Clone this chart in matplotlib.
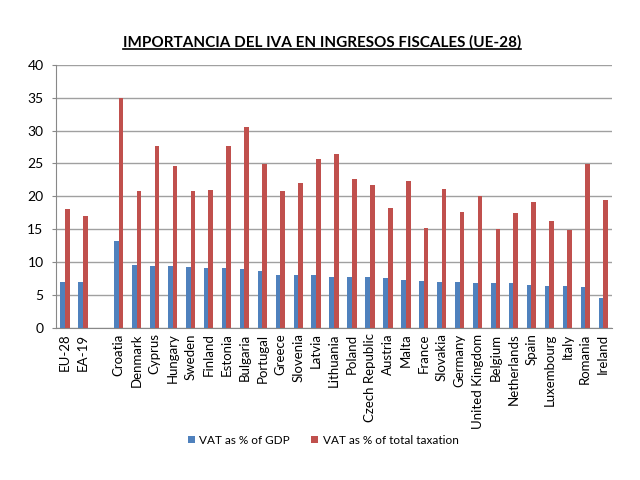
import matplotlib
matplotlib.use("Agg")
import matplotlib.pyplot as plt
import numpy as np
from matplotlib.lines import Line2D

countries = ["EU-28", "EA-19", "Croatia", "Denmark", "Cyprus", "Hungary", "Sweden",
             "Finland", "Estonia", "Bulgaria", "Portugal", "Greece", "Slovenia", "Latvia",
             "Lithuania", "Poland", "Czech Republic", "Austria", "Malta", "France",
             "Slovakia", "Germany", "United Kingdom", "Belgium", "Netherlands", "Spain",
             "Luxembourg", "Italy", "Romania", "Ireland"]
vat_gdp = [7.0, 6.9, 13.2, 9.5, 9.4, 9.4, 9.2, 9.1, 9.1, 9.0, 8.6, 8.1, 8.1, 8.0,
           7.8, 7.8, 7.7, 7.6, 7.2, 7.1, 7.0, 6.9, 6.8, 6.8, 6.8, 6.5, 6.3, 6.3, 6.2, 4.5]
vat_tax = [18.0, 17.0, 34.9, 20.8, 27.7, 24.6, 20.8, 21.0, 27.6, 30.5, 24.9, 20.8, 22.1, 25.7,
           26.5, 22.7, 21.7, 18.2, 22.4, 15.2, 21.1, 17.6, 20.1, 15.1, 17.4, 19.1, 16.2, 14.9, 24.9, 19.5]
yticks = [0, 5, 10, 15, 20, 25, 30, 35, 40]
title = "IMPORTANCIA DEL IVA EN INGRESOS FISCALES (UE-28)"
labels = ["VAT as % of GDP", "VAT as % of total taxation"]

plt.rcParams['font.family'] = ['Lato', 'DejaVu Sans']

fig = plt.figure(figsize=(6.4, 4.8), dpi=100)
ax = fig.add_axes([0.0875, 0.317, 0.869, 0.548])

n = len(countries)
x = np.array([i if i < 2 else i + 1 for i in range(n)], dtype=float)
w = 0.26
ax.bar(x - w / 2, vat_gdp, width=w, color="#4F81BD", label=labels[0], zorder=3)
ax.bar(x + w / 2, vat_tax, width=w, color="#C0504D", label=labels[1], zorder=3)

ax.set_xlim(-0.5, n + 0.5)
ax.set_ylim(0, 40)
ax.set_yticks(yticks)
ax.set_yticklabels([str(t) for t in yticks], fontsize=10)
ax.set_xticks(x)
ax.set_xticklabels(countries, rotation=90, fontsize=9.5)
ax.tick_params(axis='x', length=0, pad=4)
ax.tick_params(axis='y', length=3, color="#888888", pad=6)
ax.yaxis.grid(True, color="#A0A0A0", linewidth=1, zorder=0)
for s in ["top", "right"]:
    ax.spines[s].set_visible(False)
ax.spines["left"].set_color("#888888")
ax.spines["bottom"].set_color("#888888")

leg = fig.legend(loc="center", bbox_to_anchor=(0.505, 0.083), ncol=2, frameon=False,
                 fontsize=8.5, handlelength=0.6, handleheight=0.6, columnspacing=1.8,
                 handletextpad=0.4)

t = fig.text(0.503, 0.912, title, ha="center", va="center", fontsize=11, fontweight="bold")
fig.canvas.draw()
bb = t.get_window_extent(fig.canvas.get_renderer()).transformed(fig.transFigure.inverted())
y_line = bb.y0 + 0.002
fig.add_artist(Line2D([bb.x0, bb.x1], [y_line, y_line], color="black", linewidth=1.2,
                      transform=fig.transFigure))

fig.savefig("out.png", dpi=100)
